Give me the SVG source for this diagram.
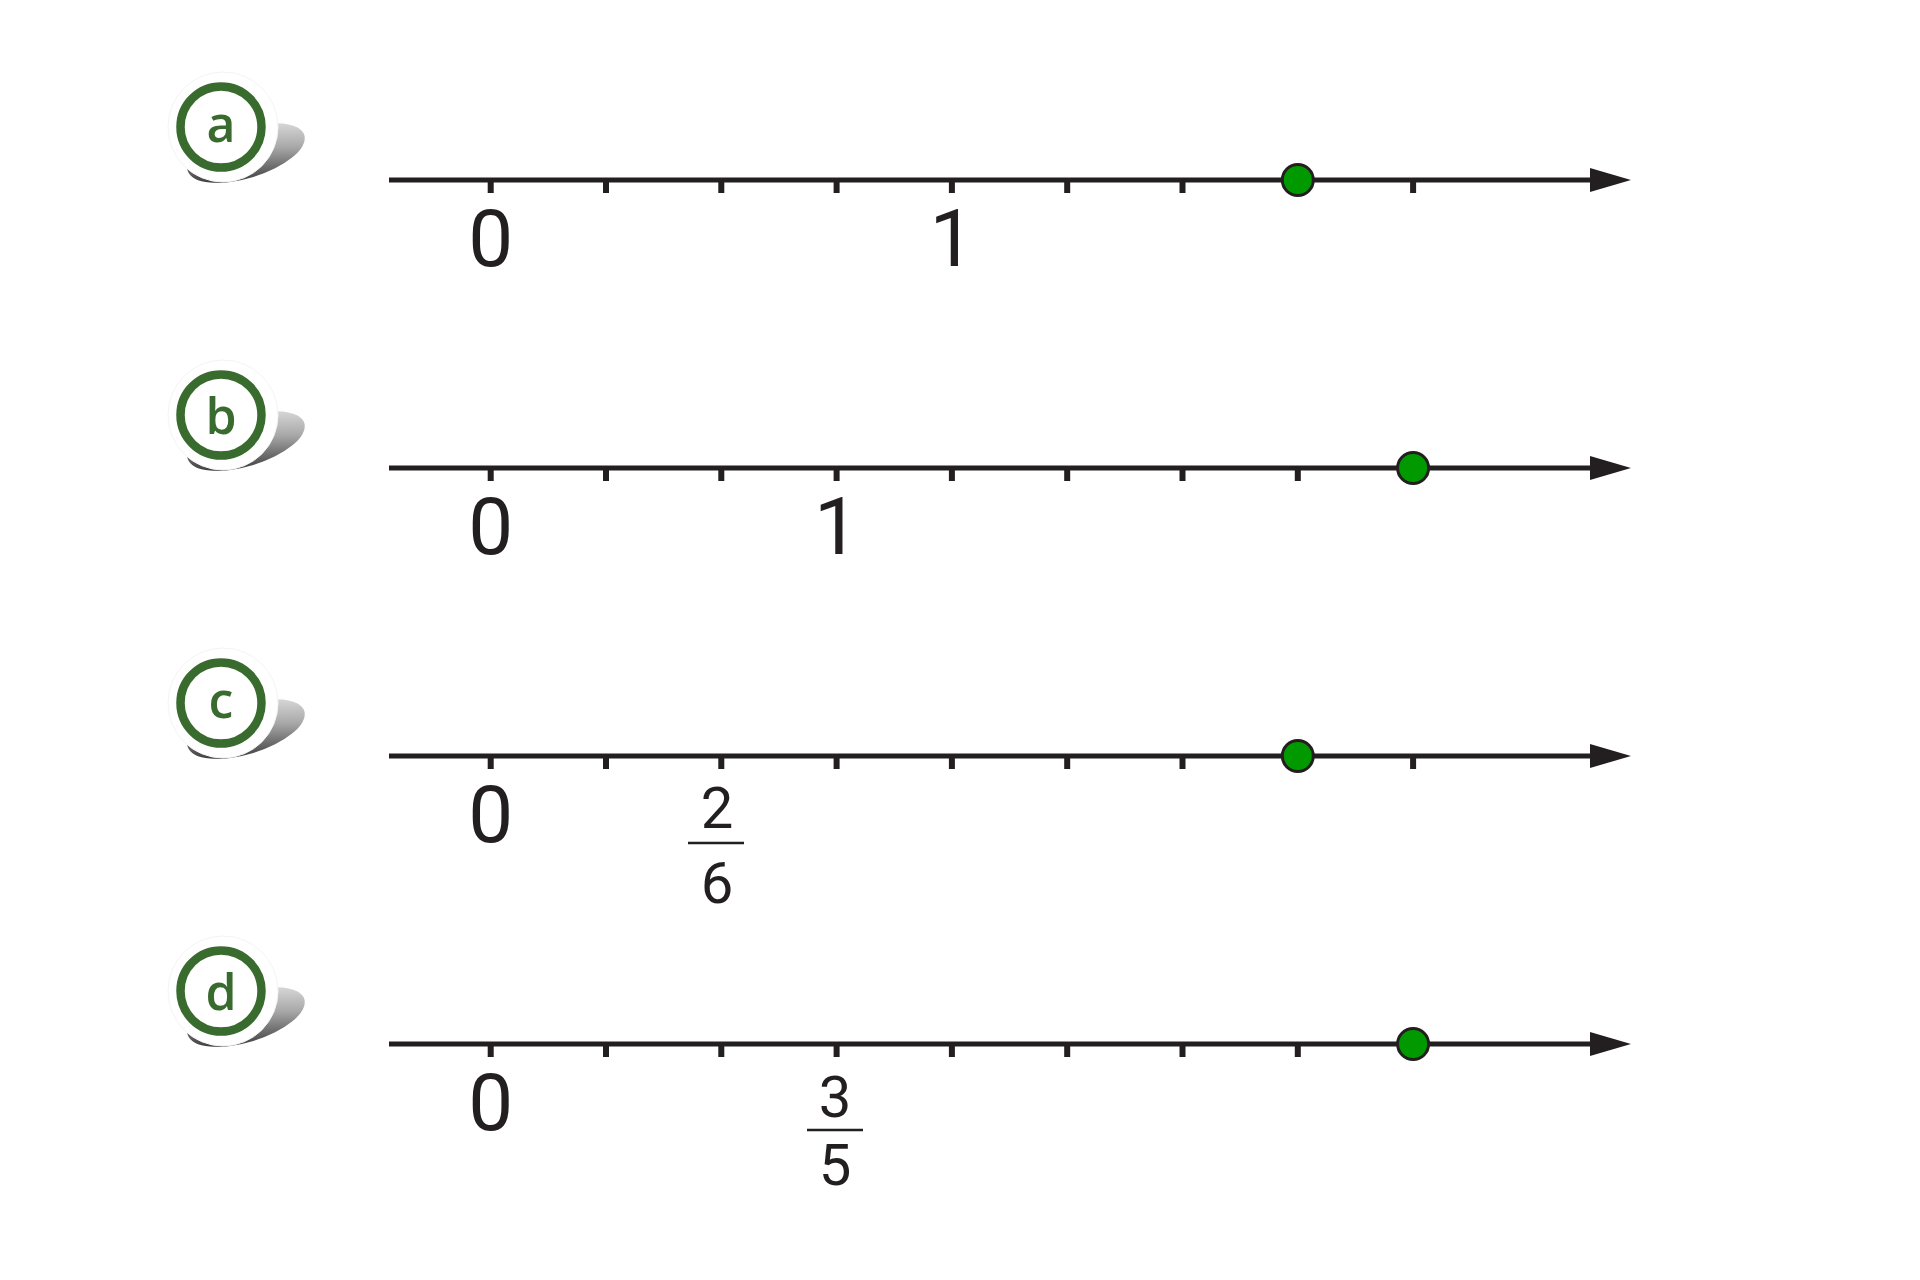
<svg xmlns="http://www.w3.org/2000/svg" width="1920" height="1280" viewBox="0 0 1920 1280">
<defs>
<style>
.axis{stroke:#231f20;stroke-width:5;fill:none}
.tick{fill:#231f20}
.head{fill:#231f20}
.dot{fill:#009a00;stroke:#231f20;stroke-width:3}
.num{font-family:Roboto,"Liberation Sans",sans-serif;font-size:80px;fill:#231f20;text-anchor:middle}
.frac{font-family:Roboto,"Liberation Sans",sans-serif;font-size:58px;fill:#231f20;text-anchor:middle}
.bar{stroke:#231f20;stroke-width:2.6}
.ring{fill:#ffffff;stroke:#3a6b2e;stroke-width:8.5}
.disc{fill:#ffffff;stroke:#f4f4f4;stroke-width:1}
.letter{font-family:"Open Sans","Noto Sans",sans-serif;font-weight:600;font-size:50px;fill:#3a6b2e;text-anchor:middle}
</style>
<linearGradient id="sh" x1="1" y1="0" x2="0.3" y2="1">
<stop offset="0" stop-color="#ededed"/>
<stop offset="0.5" stop-color="#a8a8a8"/>
<stop offset="1" stop-color="#3a3a3a"/>
</linearGradient>
<g id="badge">
<ellipse cx="25" cy="26" rx="61" ry="25" transform="rotate(-17 25 26)" fill="url(#sh)"/>
<circle cx="2" cy="0" r="55" class="disc"/>
<circle cx="0" cy="0" r="40.5" class="ring"/>
</g>
<g id="ticks">
<rect x="487.7" y="0" width="6" height="13" class="tick"/>
<rect x="603" y="0" width="6" height="13" class="tick"/>
<rect x="718.3" y="0" width="6" height="13" class="tick"/>
<rect x="833.6" y="0" width="6" height="13" class="tick"/>
<rect x="948.9" y="0" width="6" height="13" class="tick"/>
<rect x="1064.2" y="0" width="6" height="13" class="tick"/>
<rect x="1179.5" y="0" width="6" height="13" class="tick"/>
<rect x="1294.8" y="0" width="6" height="13" class="tick"/>
<rect x="1410.1" y="0" width="6" height="13" class="tick"/>
</g>
<g id="axis">
<line x1="389" y1="0" x2="1596" y2="0" class="axis"/>
<polygon points="1590,-12 1631,0 1590,12" class="head"/>
</g>
</defs>
<rect width="1920" height="1280" fill="#ffffff"/>

<g id="badge-a" transform="translate(221,127)">
<use href="#badge"/>
<text x="0" y="15" class="letter">a</text>
</g>
<g id="badge-b" transform="translate(221,415)">
<use href="#badge"/>
<text x="0" y="19" class="letter">b</text>
</g>
<g id="badge-c" transform="translate(221,703)">
<use href="#badge"/>
<text x="0" y="15" class="letter">c</text>
</g>
<g id="badge-d" transform="translate(221,991)">
<use href="#badge"/>
<text x="0" y="19" class="letter">d</text>
</g>

<g id="connectors">
<g id="line-a" transform="translate(0,180)">
<use href="#ticks"/>
<use href="#axis"/>
<circle cx="1297.8" cy="0" r="15.5" class="dot"/>
<text x="490.7" y="86" class="num">0</text>
<text x="951.9" y="86" class="num">1</text>
</g>
<g id="line-b" transform="translate(0,468)">
<use href="#ticks"/>
<use href="#axis"/>
<circle cx="1413.1" cy="0" r="15.5" class="dot"/>
<text x="490.7" y="86" class="num">0</text>
<text x="836.6" y="86" class="num">1</text>
</g>
<g id="line-c" transform="translate(0,756)">
<use href="#ticks"/>
<use href="#axis"/>
<circle cx="1297.8" cy="0" r="15.5" class="dot"/>
<text x="490.7" y="86" class="num">0</text>
<text x="717" y="72" class="frac">2</text>
<line x1="688" y1="87" x2="744" y2="87" class="bar"/>
<text x="717" y="147" class="frac">6</text>
</g>
<g id="line-d" transform="translate(0,1044)">
<use href="#ticks"/>
<use href="#axis"/>
<circle cx="1413.1" cy="0" r="15.5" class="dot"/>
<text x="490.7" y="86" class="num">0</text>
<text x="835" y="73" class="frac">3</text>
<line x1="807" y1="86" x2="863" y2="86" class="bar"/>
<text x="835" y="141" class="frac">5</text>
</g>
</g>
</svg>
